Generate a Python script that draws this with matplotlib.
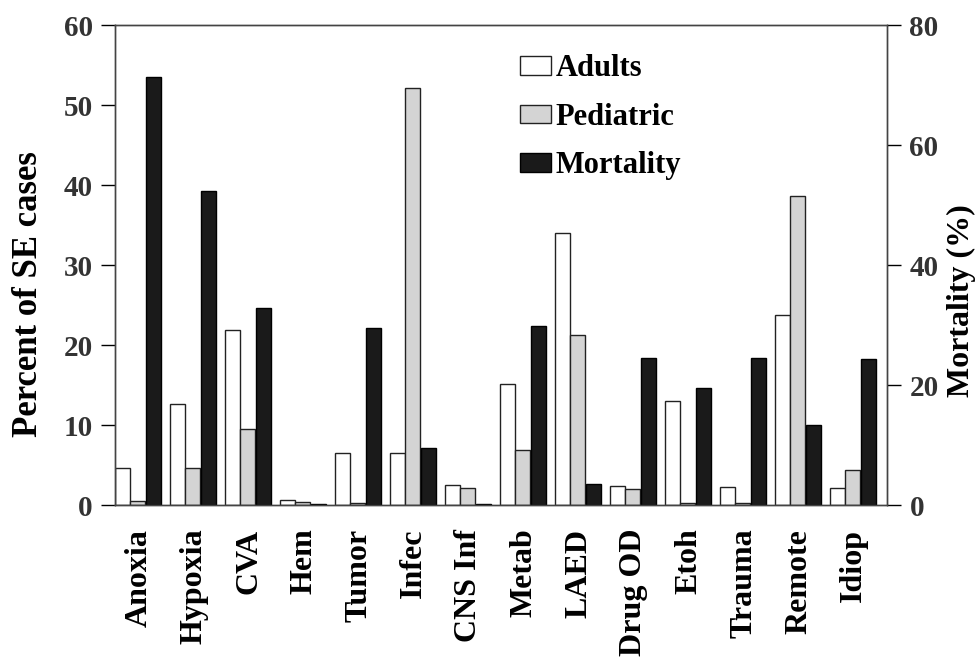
import matplotlib
matplotlib.use("Agg")
import matplotlib.pyplot as plt
import numpy as np

categories = ["Anoxia", "Hypoxia", "CVA", "Hem", "Tumor", "Infec", "CNS Inf",
              "Metab", "LAED", "Drug OD", "Etoh", "Trauma", "Remote", "Idiop"]
adults = [4.6, 12.6, 21.9, 0.6, 6.5, 6.5, 2.5, 15.1, 34.0, 2.4, 13.0, 2.3, 23.8, 2.1]
pediatric = [0.5, 4.7, 9.5, 0.4, 0.3, 52.2, 2.2, 6.9, 21.3, 2.0, 0.3, 0.3, 38.6, 4.4]
mortality = [71.3, 52.3, 32.8, 0.2, 29.6, 9.6, 0.2, 29.8, 3.5, 24.5, 19.5, 24.5, 13.3, 24.3]
left_ticks = [0, 10, 20, 30, 40, 50, 60]
right_ticks = [0, 20, 40, 60, 80]

plt.rcParams["font.family"] = ["Liberation Serif", "DejaVu Serif"]
plt.rcParams["font.weight"] = "bold"
FS = 21

fig = plt.figure(figsize=(9.76, 6.62), dpi=100)
ax = fig.add_axes([0.118, 0.237, 0.791, 0.725])
ax2 = ax.twinx()

x = np.arange(len(categories))
w = 0.27
b1 = ax.bar(x - 0.29, adults, w, color="white", edgecolor="#222222", lw=1.0, label="Adults")
b2 = ax.bar(x - 0.02, pediatric, w, color="#d4d4d4", edgecolor="#222222", lw=1.0, label="Pediatric")
b3 = ax2.bar(x + 0.27, mortality, w, color="#1a1a1a", edgecolor="black", lw=1.0, label="Mortality")

ax.set_xlim(-0.43, 13.61)
ax.set_ylim(0, 60)
ax2.set_ylim(0, 80)
ax.set_yticks(left_ticks)
ax2.set_yticks(right_ticks)

ax.set_xticks(x)
ax.set_xticklabels(categories, rotation=90, fontsize=23, fontweight="bold")
ax.tick_params(axis="x", length=0, pad=17)
ax.tick_params(axis="y", direction="out", length=10, width=1, pad=6, labelsize=FS)
ax2.tick_params(axis="y", direction="out", length=10, width=1, pad=6, labelsize=FS)
for lab in ax.get_yticklabels() + ax2.get_yticklabels():
    lab.set_fontweight("bold")
    lab.set_color("#333333")

ax.set_ylabel("Percent of SE cases", fontsize=25, fontweight="bold")
ax2.set_ylabel("Mortality (%)", fontsize=23, fontweight="bold")
ax.yaxis.set_label_coords(-0.091, 0.44)
ax2.yaxis.set_label_coords(1.078, 0.427)

for a in (ax, ax2):
    for s in a.spines.values():
        s.set_color("#444444")
        s.set_linewidth(1.0)

ax2.legend([b1, b2, b3], ["Adults", "Pediatric", "Mortality"],
           loc="upper left", bbox_to_anchor=(0.509, 0.965), frameon=False,
           fontsize=22, handlelength=1.0, handleheight=0.55, handletextpad=0.15,
           labelspacing=0.64, borderaxespad=0)

fig.savefig("out.png", dpi=100)
